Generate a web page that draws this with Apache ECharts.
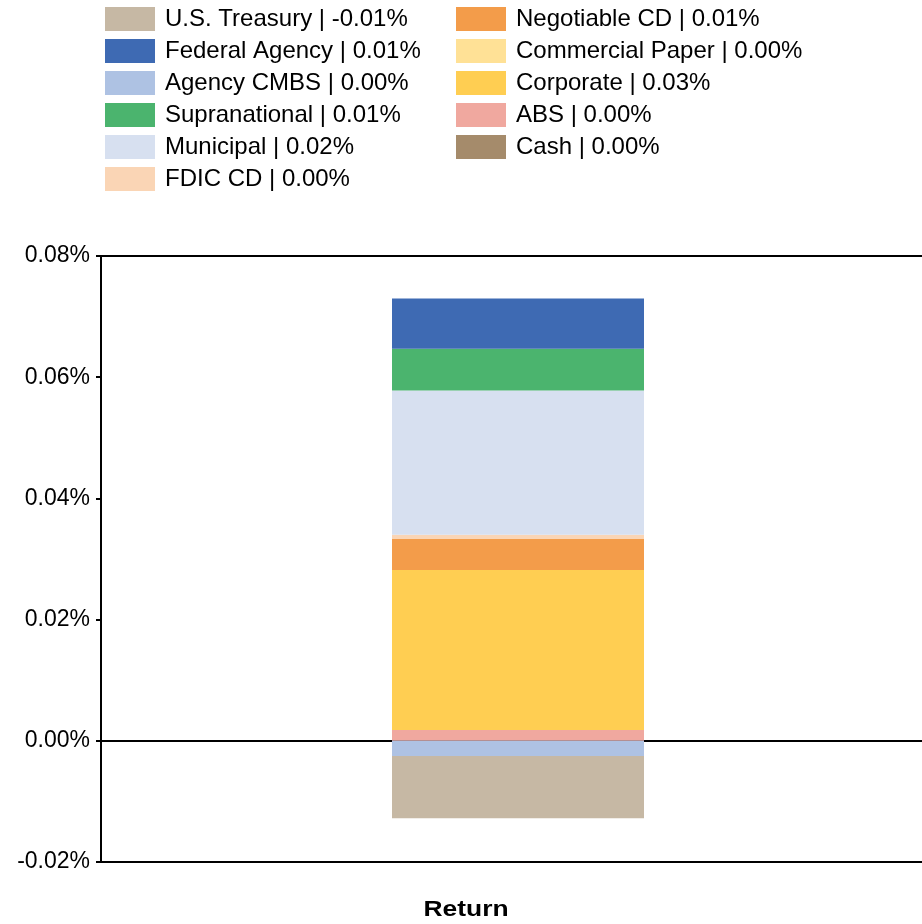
<!DOCTYPE html>
<html>
<head>
<meta charset="utf-8">
<script src="https://cdn.jsdelivr.net/npm/echarts@6/dist/echarts.min.js"></script>
<style>
  html, body { margin: 0; padding: 0; background: #fff; }
  #main { width: 922px; height: 924px; }
</style>
</head>
<body>
<div id="main"></div>
<script>
// legend order (as shown in the reference)
var sectors = ['U.S. Treasury', 'Federal Agency', 'Agency CMBS', 'Supranational', 'Municipal', 'FDIC CD',
               'Negotiable CD', 'Commercial Paper', 'Corporate', 'ABS', 'Cash'];
// contribution to return, in percent
var returns = [-0.0103, 0.0083, -0.0025, 0.0069, 0.0238, 0.0007, 0.0051, 0, 0.0264, 0.0018, 0];
// rounded labels printed in the legend
var legendLabels = ['-0.01%', '0.01%', '0.00%', '0.01%', '0.02%', '0.00%', '0.01%', '0.00%', '0.03%', '0.00%', '0.00%'];
var colors = ['#c6b8a4', '#3e6ab3', '#aec2e3', '#4bb46e', '#d7e0f0', '#fad5b5',
              '#f39c4a', '#ffe196', '#ffce52', '#f0a89f', '#a58b6b'];
var categories = ['Return'];
var yTicks = { min: -0.02, max: 0.08, interval: 0.02 };

var font = '"Liberation Sans", Arial, sans-serif';
var chart = echarts.init(document.getElementById('main'));

// series drawn in reverse so stacking from zero matches the picture
var series = [];
for (var i = sectors.length - 1; i >= 0; i--) {
    series.push({
        name: sectors[i],
        type: 'bar',
        stack: 'total',
        barWidth: 252,
        itemStyle: { color: colors[i] },
        data: [returns[i]]
    });
}

var labelByName = {};
sectors.forEach(function (s, i) { labelByName[s] = legendLabels[i]; });

var legendCommon = {
    orient: 'vertical',
    top: 7,
    padding: 0,
    itemWidth: 50,
    itemHeight: 24,
    itemGap: 8,
    icon: 'rect',
    selectedMode: false,
    textStyle: { fontSize: 24, color: '#000', fontFamily: font, padding: [3, 0, 0, 5] },
    formatter: function (name) { return name + ' | ' + labelByName[name]; }
};

var option = {
    animation: false,
    color: colors,
    legend: [
        Object.assign({}, legendCommon, { left: 105, data: sectors.slice(0, 6) }),
        Object.assign({}, legendCommon, { left: 456, data: sectors.slice(6) })
    ],
    // plot runs past the right edge of the canvas, as in the reference
    grid: {
        left: 101,
        top: 256,
        bottom: 62,
        width: 834,
        outerBoundsMode: 'none',
        containLabel: false,
        show: true,
        borderColor: '#000',
        borderWidth: 2
    },
    xAxis: {
        type: 'category',
        data: categories,
        axisLine: { onZero: true, lineStyle: { color: '#000', width: 2 } },
        axisTick: { show: false },
        axisLabel: { show: false }
    },
    yAxis: {
        type: 'value',
        min: yTicks.min,
        max: yTicks.max,
        interval: yTicks.interval,
        axisLine: { show: true, lineStyle: { color: '#000', width: 2 } },
        axisTick: { show: true, length: 5, lineStyle: { color: '#000', width: 2 } },
        splitLine: { show: false },
        axisLabel: {
            margin: 11,
            fontSize: 23,
            color: '#000',
            fontFamily: font,
            formatter: function (v) { return v.toFixed(2) + '%'; }
        }
    },
    graphic: [{
        type: 'text',
        x: 466,
        y: 910,
        scaleX: 1.2,
        style: {
            text: categories[0],
            font: 'bold 22px ' + font,
            fill: '#000',
            textAlign: 'center',
            textVerticalAlign: 'middle'
        }
    }],
    series: series
};

chart.setOption(option);
</script>
</body>
</html>
